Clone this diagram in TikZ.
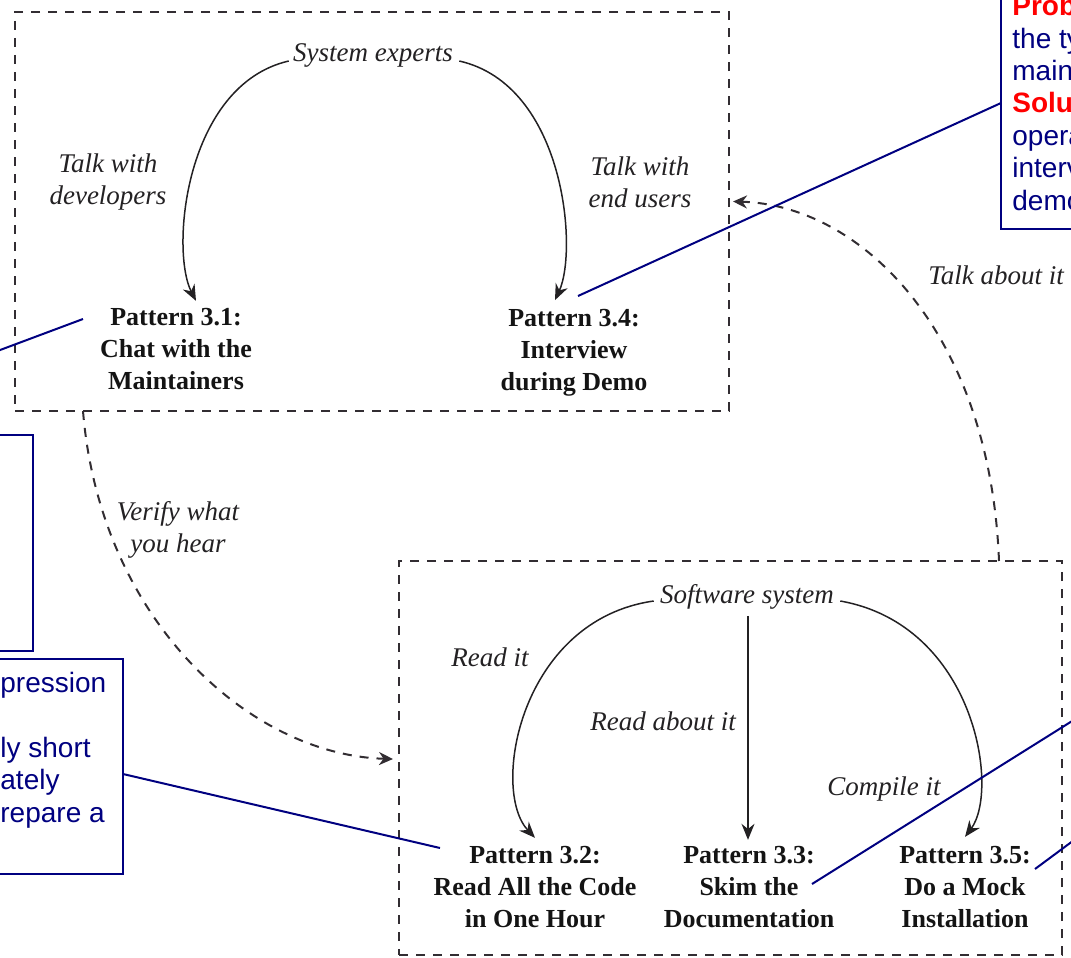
\documentclass[tikz,border=0pt]{standalone}
\usepackage{fontspec}
\setmainfont{Liberation Serif}
\newfontfamily\arialf{Liberation Sans}
\usetikzlibrary{arrows.meta,calc}
\definecolor{navyc}{RGB}{0,0,128}
\definecolor{inkc}{RGB}{35,33,35}
\definecolor{dashc}{RGB}{50,45,50}
\definecolor{redc}{RGB}{255,0,0}
\begin{document}
\begin{tikzpicture}[x=0.5pt,y=-0.5pt,
 dashbox/.style={draw=dashc, line width=1.1pt, dash pattern=on 4.5pt off 4pt, inner sep=0pt, outer sep=0pt},
 flow/.style={draw=dashc, line width=1pt, dash pattern=on 4.5pt off 4pt, -{Stealth[length=7pt,width=6.5pt]}},
 arr/.style={draw=inkc, line width=0.75pt, -{Stealth[length=8pt,width=6.5pt]}},
 lab/.style={font=\fontsize{13.5}{16}\selectfont\itshape, text=inkc, inner sep=1pt},
 pat/.style={font=\fontsize{13}{16}\selectfont\bfseries, text=black!92, align=center, inner sep=0pt},
 callbox/.style={draw=navyc, line width=1pt, inner sep=0pt, outer sep=0pt},
 callline/.style={draw=navyc, line width=1pt},
 calltext/.style={font=\arialf\fontsize{14}{16.2}\selectfont, text=navyc, align=left, inner sep=0pt},
 ]
\useasboundingbox (0,0) rectangle (1071,958);
\clip (0,0) rectangle (1071,958);

% dashed group boxes
\node[dashbox, minimum width=357pt, minimum height=199.5pt] (topbox) at (372,211.5) {};
\node[dashbox, minimum width=331.5pt, minimum height=197pt] (botbox) at (730.5,758) {};

% callout boxes (partly outside the picture)
\node[callbox, minimum width=100pt, minimum height=126pt] (cbTR) at (1101,103) {};
\node[callbox, minimum width=100pt, minimum height=108pt] (cbL1) at (-67,543) {};
\node[callbox, minimum width=150pt, minimum height=107.5pt] (cbL2) at (-27,766.5) {};

\node[calltext, anchor=north west] (tTR) at (1012,-5) {\textcolor{redc}{\textbf{Prob}}\\the ty\\main\\\textcolor{redc}{\textbf{Solu}}\\opera\\interv\\demo};
\node[calltext, anchor=north west] (tL2) at (0,672) {pression\\[16.2pt]ly short\\ately\\repare a};

% top group
\node[lab] (se) at (373,55) {System experts};
\node[lab, align=center] (twd) at (108,182) {Talk with\\developers};
\node[lab, align=center] (twe) at (640,182) {Talk with\\end users};
\node[pat] (p31) at (176,349) {Pattern 3.1:\\Chat with the\\Maintainers};
\node[pat] (p34) at (574,353) {Pattern 3.4:\\Interview\\during Demo};

% bottom group
\node[lab] (ss) at (747,597) {Software system};
\node[lab] (ri) at (490,657) {Read it};
\node[lab] (rai) at (663,721) {Read about it};
\node[lab] (ci) at (884,789) {Compile it};
\node[pat] (p32) at (535,887) {Pattern 3.2:\\Read All the Code\\in One Hour};
\node[pat] (p33) at (749,887) {Pattern 3.3:\\Skim the\\Documentation};
\node[pat] (p35) at (965,887) {Pattern 3.5:\\Do a Mock\\Installation};

% between groups
\node[lab, align=center] (vw) at (178,530) {Verify what\\you hear};
\node[lab, anchor=west] (tai) at (926,275) {Talk about it};

% solid arrows
\draw[arr] ($(se.west)+(-2,6)$) .. controls (185,85) and (170,250) .. ($(p31.north)+(20,-7)$);
\draw[arr] ($(se.east)+(4,6)$) .. controls (565,85) and (578,250) .. ($(p34.north)+(-19,-9)$);
\draw[arr] ($(ss.west)+(-4,4)$) .. controls (520,620) and (490,790) .. ($(p32.north)+(0,-8)$);
\draw[arr] ($(ss.south)+(1,4)$) -- ($(p33.north)+(-1,-6)$);
\draw[arr] ($(ss.east)+(4,4)$) .. controls (975,625) and (1000,790) .. ($(p35.north)+(0,-9)$);

% dashed arrows
\draw[flow] ($(topbox.south west)+(68,0)$) .. controls (100,620) and (250,755) .. ($(botbox.west)+(-6,1)$);
\draw[flow] ($(botbox.north east)+(-63,0)$) .. controls (990,330) and (860,205) .. ($(topbox.east)+(4,-10)$);

% callout pointers
\coordinate (tip31) at (83,319);
\coordinate (offL) at (-40,365);
\coordinate (tip34) at (578,296);
\coordinate (tip32) at (440,848);
\coordinate (tip33) at (812,884);
\coordinate (offR1) at (1120,691);
\coordinate (tip35) at (1035,869);
\coordinate (offR2) at (1120,806);
\draw[callline] (tip31) -- (offL);
\draw[callline] (tip34) -- (cbTR.west);
\draw[callline] (tip32) -- ($(cbL2.east)+(0,7.5)$);
\draw[callline] (tip33) -- (offR1);
\draw[callline] (tip35) -- (offR2);
\end{tikzpicture}
\end{document}
